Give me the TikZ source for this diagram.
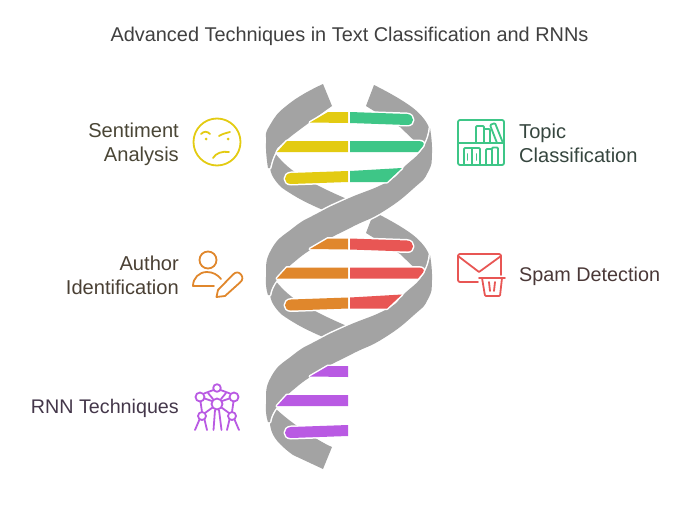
\documentclass[tikz,border=0pt]{standalone}
\usepackage{fontspec}
\setmainfont{Liberation Sans}
\usepackage{xcolor}
\usetikzlibrary{positioning}

\definecolor{strandgray}{HTML}{A3A3A3}
\definecolor{sentimentcol}{HTML}{E3CB12}
\definecolor{topiccol}{HTML}{3EC687}
\definecolor{authorcol}{HTML}{E0872C}
\definecolor{spamcol}{HTML}{E85654}
\definecolor{rnncol}{HTML}{B95AE3}
\definecolor{sentimenttext}{HTML}{4A4636}
\definecolor{topictext}{HTML}{36463F}
\definecolor{authortext}{HTML}{4A4034}
\definecolor{spamtext}{HTML}{4A3837}
\definecolor{rnntext}{HTML}{44374A}

\tikzset{
  halo/.style={preaction={draw=white,line width=3pt,line join=round}},
  strand/.style={halo,fill=strandgray},
  rung/.style={halo,fill=#1},
  icon/.style={draw=#1,line width=1.8pt,line cap=round,line join=round},
  label/.style={font=\fontsize{20.1}{24}\selectfont,text=#1,inner sep=0pt}
}

% 横棒(左)
\newcommand{\leftrungs}[1]{
  \path[rung=#1] (348,112) -- (328,112) -- (310,122.5) -- (348,123) -- cycle;
  \path[rung=#1] (348,141) -- (287,141) -- (277,152) -- (348,152) -- cycle;
  \path[rung=#1] (348,171) -- (291,173) .. controls (283,173.5) and (283,184) .. (291,184) -- (348,182) -- cycle;
}
% 横棒(右)
\newcommand{\rightrungs}[1]{
  \path[rung=#1] (350,112) -- (407,114) .. controls (415,114.5) and (415,125.5) .. (407,125) -- (350,123) -- cycle;
  \path[rung=#1] (350,141) -- (418,141) .. controls (423,141) and (425,143) .. (423,146) -- (418,152) -- (350,152) -- cycle;
  \path[rung=#1] (350,171) -- (402,168) -- (387,182) -- (350,182) -- cycle;
}
% 裏側の帯
\newcommand{\backleft}{
  \path[strand] plot[smooth,tension=.9] coordinates {(275,153) (292,170) (317,185) (347,199)}
    -- plot[smooth,tension=.9] coordinates {(323,210) (293,195) (275,180) (270,165)} -- cycle;
}
\newcommand{\backright}{
  \path[strand] plot[smooth,tension=.9] coordinates {(374,85) (413,108) (429,128)}
    -- (424,150) -- plot[smooth,tension=.9] coordinates {(400,127) (366,106)} -- cycle;
}
% 手前の帯
\newcommand{\frontribbon}{
  \path[strand] plot[smooth,tension=.9] coordinates {(430,128) (432,153) (428,172) (414,188) (384,211) (352,227) (320,244) (293,263) (276,281) (270,295)}
    -- plot[smooth,tension=.9] coordinates {(268,295) (266,277) (271,250) (293,228) (318,213) (347,199) (387,182) (404,167) (423,148) (430,128)} -- cycle;
}

\begin{document}
\begin{tikzpicture}[x=1pt,y=-1pt]
  \useasboundingbox (0,0) rectangle (698,506);

  % タイトル
  \node[label=black!75,font=\fontsize{19.9}{22}\selectfont] (title) at (349.5,36) {Advanced Techniques in Text Classification and RNNs};

  % 裏側の帯
  \backright
  \backleft
  \begin{scope}[yshift=-127pt]
    \backright
    \backleft
  \end{scope}
  \path[strand] plot[smooth,tension=.9] coordinates {(275,408) (293,423) (317,439) (332,447)}
    -- (323,469) -- plot[smooth,tension=.9] coordinates {(293,455) (275,438) (270,421)} -- cycle;

  % 手前の帯
  \path[strand] plot[smooth,tension=.9] coordinates {(323,84) (290,103) (270,125) (266,143) (268,168)}
    -- plot[smooth,tension=.9] coordinates {(270,168) (275,153) (283,143) (310,122) (332,106)} -- cycle;
  \frontribbon
  \begin{scope}[yshift=-127pt]
    \frontribbon
  \end{scope}

  % 横棒
  \leftrungs{sentimentcol}
  \rightrungs{topiccol}
  \begin{scope}[yshift=-126.5pt]
    \leftrungs{authorcol}
    \rightrungs{spamcol}
  \end{scope}
  \begin{scope}[yshift=-254pt]
    \leftrungs{rnncol}
  \end{scope}

  % ラベル
  \node[label=sentimenttext,align=right,anchor=east] (sentiment) at (179,144.5) {Sentiment\\Analysis};
  \node[label=topictext,align=left,anchor=west] (topic) at (519,143) {Topic\\Classification};
  \node[label=authortext,align=right,anchor=east] (author) at (179,275) {Author\\Identification};
  \node[label=spamtext,font=\fontsize{19.8}{24}\selectfont,anchor=west] (spam) at (519,276) {Spam Detection};
  \node[label=rnntext,font=\fontsize{19.7}{24}\selectfont,anchor=east] (rnn) at (179,408) {RNN Techniques};

  % 顔
  \draw[icon=sentimentcol] (217,142) circle [radius=23.5];
  \draw[icon=sentimentcol] (201,134) .. controls (204,131) and (207,131) .. (210,134);
  \draw[icon=sentimentcol] (219,136) .. controls (222,134) and (226,133) .. (230,132);
  \fill[sentimentcol] (206,139) circle [radius=1.5] (228,139) circle [radius=1.5];
  \draw[icon=sentimentcol] (213,158) .. controls (216,153) and (222,151) .. (229,152);

  % 本棚
  \draw[icon=topiccol,rounded corners=2pt] (458,120) rectangle (504,165);
  \draw[icon=topiccol] (458,143) -- (504,143);
  \draw[icon=topiccol,rounded corners=1pt] (476,143) -- (476,126) -- (484,126) -- (484,143);
  \draw[icon=topiccol,rounded corners=1pt] (484,129) -- (490,129) -- (490,143);
  \draw[icon=topiccol,rounded corners=1pt] (497,143) -- (490,125) -- (495,123) -- (503,143);
  \draw[icon=topiccol,rounded corners=1pt] (464,165) -- (464,148) -- (480,148) -- (480,165);
  \draw[icon=topiccol] (472,148) -- (472,165);
  \draw[icon=topiccol] (467.5,154) -- (467.5,160) (476.5,154) -- (476.5,160);
  \draw[icon=topiccol,rounded corners=1pt] (486,165) -- (486,149) -- (492,149) -- (492,165);
  \draw[icon=topiccol,rounded corners=1pt] (492,149) -- (492,147.5) -- (498,147.5) -- (498,165);

  % 人物と鉛筆
  \draw[icon=authorcol] (208,260) circle [radius=8.5];
  \draw[icon=authorcol] (214,286) -- (193,286) .. controls (193,278) and (199,272) .. (207,272) .. controls (213,272) and (218,275) .. (221,279);
  \draw[icon=authorcol] (216.5,297) -- (218,290) -- (233,274.5) .. controls (236,271.5) and (239,272) .. (241,274.5) .. controls (243,277) and (243,280) .. (240,282.5) -- (225,296) -- cycle;

  % 封筒とごみ箱
  \draw[icon=spamcol,rounded corners=2pt] (478,282) -- (458,282) -- (458,254) -- (501,254) -- (501,275);
  \draw[icon=spamcol] (458,256) -- (479,272) -- (501,256);
  \draw[icon=spamcol] (479,278) -- (505,278);
  \draw[icon=spamcol,rounded corners=1pt] (482,278) -- (485,296) -- (500,296) -- (502,278);
  \draw[icon=spamcol] (489,282) -- (490,291) (495,282) -- (494,291);

  % 分子
  \draw[icon=rnncol] (217,388) circle [radius=3.8];
  \draw[icon=rnncol] (200,397) circle [radius=4.5];
  \draw[icon=rnncol] (234,397) circle [radius=4.5];
  \draw[icon=rnncol] (217,404) circle [radius=5.5];
  \draw[icon=rnncol] (202,416) circle [radius=4];
  \draw[icon=rnncol] (232,416) circle [radius=4];
  \draw[icon=rnncol] (204,393.5) -- (213.5,390) (220.5,390) -- (230,393.5);
  \draw[icon=rnncol] (204.5,398.5) -- (212,401) (229.5,398.5) -- (222,401);
  \draw[icon=rnncol] (208,393) -- (213,399) (226,393) -- (221,399);
  \draw[icon=rnncol] (200.5,401.5) -- (202,412) (233.5,401.5) -- (232,412);
  \draw[icon=rnncol] (205,413) -- (212.5,407.5) (229,413) -- (221.5,407.5);
  \draw[icon=rnncol] (215,410) -- (213.5,430) (219,410) -- (221.5,430);
  \draw[icon=rnncol] (199.5,419.5) -- (195,430) (204.5,419.5) -- (207,430);
  \draw[icon=rnncol] (229.5,419.5) -- (227,430) (234.5,419.5) -- (239,430);
\end{tikzpicture}
\end{document}
